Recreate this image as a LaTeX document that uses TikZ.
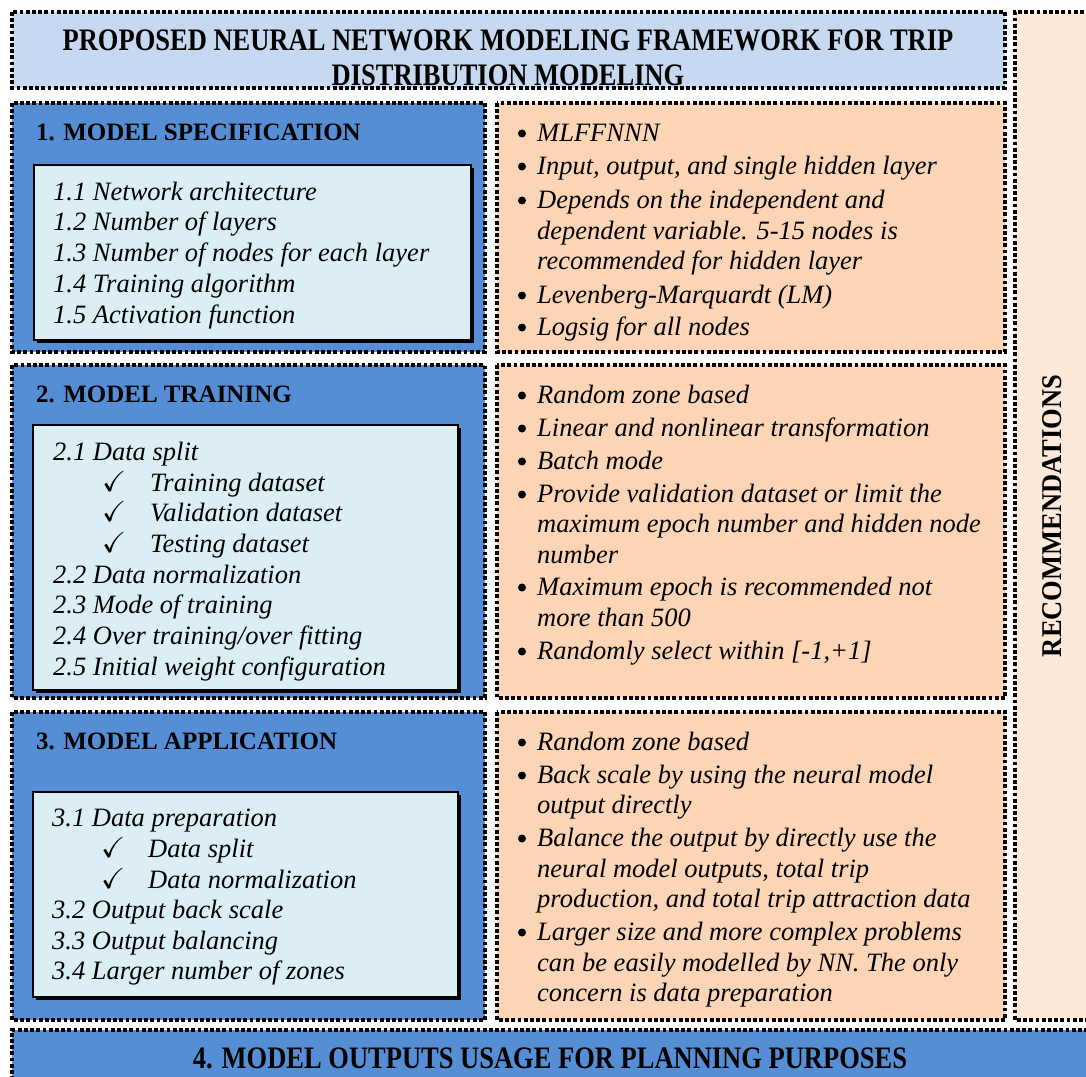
\documentclass[tikz,border=0pt]{standalone}
\usepackage{amssymb}
\usepackage{fontspec}
\setmainfont{Liberation Serif}
\definecolor{blueC}{HTML}{558ED5}
\definecolor{titleC}{HTML}{C6D9F1}
\definecolor{orangeC}{HTML}{FBD5B5}
\definecolor{innerC}{HTML}{DBEEF4}
\definecolor{recC}{HTML}{FDE9D9}
\tikzset{
  dotbox/.style={draw=black, line width=3.4pt, dash pattern=on 3.8pt off 2.4pt},
  innerbox/.style={draw=black, line width=1.6pt, fill=innerC},
  it/.style={anchor=base west, inner sep=0pt, font=\fontsize{26.5}{30}\selectfont\itshape},
  hd/.style={anchor=base west, inner sep=0pt, font=\fontsize{25}{30}\selectfont\bfseries},
  tt/.style={anchor=base, inner sep=0pt, font=\fontsize{26.5}{30}\selectfont\bfseries},
  bul/.style={circle, fill=black, inner sep=0pt, minimum size=8pt},
  ck/.style={anchor=base west, inner sep=0pt, text height=14pt, text depth=0pt, font=\fontsize{29}{30}\selectfont},
}
\newcommand{\tall}[1]{\scalebox{1}[1.18]{#1}}
\begin{document}
\begin{tikzpicture}[x=1pt,y=-1pt]
\useasboundingbox (0,0) rectangle (1086,1076);
\begin{scope}
\clip (0,0) rectangle (1086,1076);
% recommendations column
\fill[recC] (1015,12) rectangle (1090,1020);
\draw[dotbox] (1090,12) -- (1015,12) -- (1015,1020) -- (1090,1020);
\node[anchor=center, inner sep=0pt, rotate=90, font=\fontsize{26.5}{30}\selectfont\bfseries] (rec) at (1052.5,516) {\scalebox{1}[1.08]{RECOMMENDATIONS}};
% title
\fill[titleC] (12,12) rectangle (1005,88);
\begin{scope}
\clip (12,12) rectangle (1005,86);
\node[tt] (t1) at (508,50) {\tall{PROPOSED NEURAL NETWORK MODELING FRAMEWORK FOR TRIP}};
\node[tt] (t2) at (508,85) {\tall{DISTRIBUTION MODELING}};
\end{scope}
\draw[dotbox] (12,12) rectangle (1005,88);
% section boxes
\foreach \a/\b [count=\i] in {103/352, 365/698, 712/1020}{
  \fill[blueC] (12,\a) rectangle (485,\b);
  \draw[dotbox] (12,\a) rectangle (485,\b);
  \fill[orangeC] (497,\a) rectangle (1005,\b);
  \draw[dotbox] (497,\a) rectangle (1005,\b);
}
% inner boxes with shadow
\foreach \x/\y/\X/\Y in {34/165/471/340, 33/425/458/690, 33/792/458/997}{
  \fill[black] (\x+2.5,\y+2.5) rectangle (\X+2.5,\Y+2.5);
  \draw[innerbox] (\x,\y) rectangle (\X,\Y);
}
% bottom bar
\fill[blueC] (12,1030) rectangle (1090,1080);
\draw[dotbox] (12,1080) -- (12,1030) -- (1090,1030);
\node[tt] (b4) at (550,1068) {\tall{4. MODEL OUTPUTS USAGE FOR PLANNING PURPOSES}};
\end{scope}
% headings
\node[hd] (h1) at (36,140) {1. MODEL SPECIFICATION};
\node[hd] (h2) at (36,402) {2. MODEL TRAINING};
\node[hd] (h3) at (36,749) {3. MODEL APPLICATION};
% section 1 inner
\node[it] (a1) at (53,200) {1.1 Network architecture};
\node[it] (a2) at (53,230.5) {1.2 Number of layers};
\node[it] (a3) at (53,261) {1.3 Number of nodes for each layer};
\node[it] (a4) at (53,292) {1.4 Training algorithm};
\node[it] (a5) at (53,323) {1.5 Activation function};
% section 2 inner
\node[it] (c1) at (53,460) {2.1 Data split};
\node[ck] (ck1) at (102,491) {$\checkmark$};
\node[it] (c2) at (150,491) {Training dataset};
\node[ck] (ck2) at (102,521) {$\checkmark$};
\node[it] (c3) at (150,521) {Validation dataset};
\node[ck] (ck3) at (102,552) {$\checkmark$};
\node[it] (c4) at (150,552) {Testing dataset};
\node[it] (c5) at (53,583) {2.2 Data normalization};
\node[it] (c6) at (53,613) {2.3 Mode of training};
\node[it] (c7) at (53,644) {2.4 Over training/over fitting};
\node[it] (c8) at (53,675) {2.5 Initial weight configuration};
% section 3 inner
\node[it] (e1) at (52,826) {3.1 Data preparation};
\node[ck] (ck4) at (101,857) {$\checkmark$};
\node[it] (e2) at (148,857) {Data split};
\node[ck] (ck5) at (101,888) {$\checkmark$};
\node[it] (e3) at (148,888) {Data normalization};
\node[it] (e4) at (52,918) {3.2 Output back scale};
\node[it] (e5) at (52,949) {3.3 Output balancing};
\node[it] (e6) at (52,979) {3.4 Larger number of zones};
% orange 1
\foreach \y in {141,174,208,303,335}{ \node[bul] (p\y) at (522,\y-7.5) {}; }
\node[it] (o1) at (537,141) {MLFFNNN};
\node[it] (o2) at (537,174) {Input, output, and single hidden layer};
\node[it] (o3) at (537,208) {Depends on the independent and};
\node[it] (o4) at (537,239) {dependent variable. 5-15 nodes is};
\node[it] (o5) at (537,269) {recommended for hidden layer};
\node[it] (o6) at (537,303) {Levenberg-Marquardt (LM)};
\node[it] (o7) at (537,335) {Logsig for all nodes};
% orange 2
\foreach \y in {403,436,469,502,595,659}{ \node[bul] (q\y) at (522,\y-7.5) {}; }
\node[it] (r1) at (537,403) {Random zone based};
\node[it] (r2) at (537,436) {Linear and nonlinear transformation};
\node[it] (r3) at (537,469) {Batch mode};
\node[it] (r4) at (537,502) {Provide validation dataset or limit the};
\node[it] (r5) at (537,532) {maximum epoch number and hidden node};
\node[it] (r6) at (537,563) {number};
\node[it] (r7) at (537,595) {Maximum epoch is recommended not};
\node[it] (r8) at (537,626) {more than 500};
\node[it] (r9) at (537,659) {Randomly select within [-1,+1]};
% orange 3
\foreach \y in {750,783,846,940}{ \node[bul] (s\y) at (522,\y-7.5) {}; }
\node[it] (u1) at (537,750) {Random zone based};
\node[it] (u2) at (537,783) {Back scale by using the neural model};
\node[it] (u3) at (537,813) {output directly};
\node[it] (u4) at (537,846) {Balance the output by directly use the};
\node[it] (u5) at (537,877) {neural model outputs, total trip};
\node[it] (u6) at (537,907) {production, and total trip attraction data};
\node[it] (u7) at (537,940) {Larger size and more complex problems};
\node[it] (u8) at (537,971) {can be easily modelled by NN. The only};
\node[it] (u9) at (537,1001) {concern is data preparation};
\end{tikzpicture}
\end{document}
